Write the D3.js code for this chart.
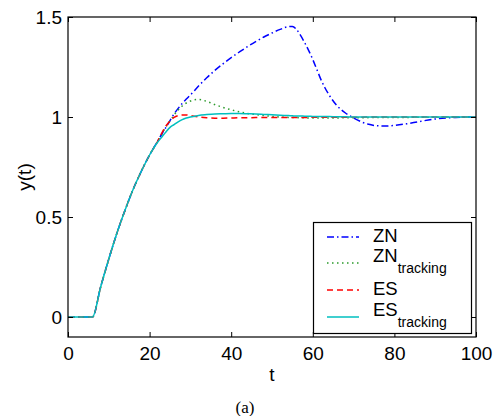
<!DOCTYPE html>
<html><head><meta charset="utf-8">
<script src="https://cdn.jsdelivr.net/npm/d3@7"></script>
<style>body{margin:0;background:#fff}svg{display:block}</style>
</head><body>
<svg id="c" width="493" height="416"></svg>
<script>
const time = [0,6,8,10,12,14,16,18,20,22,23,24,25,26,27,28,29,30,32,34,36,38,40,42,44,46,48,50,52,54,55,56,57,58,59,60,61,62,63,64,66,68,70,72,74,76,78,80,83,86,90,95,100];
const rise = [0,0,0.15,0.29,0.42,0.535,0.64,0.73,0.81,0.88];
const zn = rise.concat([0.915,0.948,0.982,1.015,1.043,1.068,1.09,1.11,1.155,1.196,1.233,1.266,1.297,1.325,1.352,1.377,1.4,1.42,1.438,1.452,1.453,1.438,1.408,1.372,1.332,1.287,1.237,1.187,1.145,1.11,1.055,1.02,0.995,0.975,0.962,0.956,0.955,0.958,0.966,0.977,0.99,0.998,1.0]);
const znTracking = rise.concat([0.915,0.95,0.98,1.01,1.035,1.055,1.07,1.08,1.088,1.078,1.062,1.048,1.036,1.026,1.018,1.012,1.007,1.003,1.0,0.998,0.997,0.997,0.996,0.996,0.995,0.995,0.995,0.995,0.995,0.995,0.995,0.996,0.996,0.996,0.997,0.997,0.997,0.998,0.998,0.999,0.999,1.0,1.0]);
const es = rise.concat([0.92,0.955,0.98,0.998,1.007,1.01,1.01,1.007,1.0,0.996,0.994,0.994,0.995,0.996,0.996,0.997,0.997,0.998,0.998,0.998,0.998,0.998,0.998,0.998,0.998,0.999,0.999,0.999,0.999,0.999,0.999,0.999,0.999,0.999,1.0,1.0,1.0,1.0,1.0,1.0,1.0,1.0,1.0]);
const esTracking = [0,0,0.15,0.29,0.42,0.535,0.64,0.73,0.81,0.875,0.9,0.925,0.948,0.962,0.976,0.987,0.995,1.0,1.008,1.012,1.015,1.016,1.017,1.017,1.016,1.015,1.013,1.011,1.009,1.007,1.006,1.005,1.005,1.004,1.004,1.003,1.003,1.002,1.002,1.002,1.001,1.001,1.0,1.0,1.0,1.0,1.0,1.0,1.0,1.0,1.0,1.0,1.0];
const xTicks = [0,20,40,60,80,100];
const yTicks = [0,0.5,1,1.5];
const seriesNames = ["ZN","ZN","ES","ES"];
const seriesSubs = ["","tracking","","tracking"];

const svg = d3.select("#c");
const L=68,R=476,T=17,B=337;
const x = d3.scaleLinear().domain([0,100]).range([L,R]);
const y = d3.scaleLinear().domain([-0.1,1.5]).range([B,T]);
const font = "'Liberation Sans', Arial, Helvetica, sans-serif";

const styles = [
  {color:"#0000ff", dash:"7,3,1.5,3"},
  {color:"#2a9a2a", dash:"1.5,3.5"},
  {color:"#ff0000", dash:"6,4"},
  {color:"#00bfbf", dash:null}
];
const data = [zn, znTracking, es, esTracking];

const g = svg.append("g");
const line = d3.line().x((d,i)=>x(time[i])).y(d=>y(d)).curve(d3.curveMonotoneX);
data.forEach((s,k)=>{
  const p = g.append("path").attr("d", line(s)).attr("fill","none")
    .attr("stroke", styles[k].color).attr("stroke-width",1.5);
  if (styles[k].dash) p.attr("stroke-dasharray", styles[k].dash);
});

// axes
const ax = svg.append("g").attr("transform",`translate(0,${B})`)
  .call(d3.axisBottom(x).tickValues(xTicks).tickSizeInner(-5).tickSizeOuter(0).tickPadding(10).tickFormat(d=>String(d)));
const axTop = svg.append("g").attr("transform",`translate(0,${T})`)
  .call(d3.axisTop(x).tickValues(xTicks).tickSizeInner(-5).tickSizeOuter(0).tickFormat(""));
const ay = svg.append("g").attr("transform",`translate(${L},0)`)
  .call(d3.axisLeft(y).tickValues(yTicks).tickSizeInner(-5).tickSizeOuter(0).tickPadding(6).tickFormat(d=>String(d)));
const ayR = svg.append("g").attr("transform",`translate(${R},0)`)
  .call(d3.axisRight(y).tickValues(yTicks).tickSizeInner(-5).tickSizeOuter(0).tickFormat(""));
[ax,axTop,ay,ayR].forEach(a=>{
  a.selectAll(".domain").remove();
  a.selectAll("line").attr("stroke","#000").attr("stroke-width",1);
  a.selectAll("text").attr("font-family",font).attr("font-size",19).attr("fill","#000");
});
svg.append("rect").attr("x",L).attr("y",T).attr("width",R-L).attr("height",B-T)
  .attr("fill","none").attr("stroke","#000").attr("stroke-width",1.2);

// labels
svg.append("text").attr("x",272).attr("y",381).attr("text-anchor","middle")
  .attr("font-family",font).attr("font-size",19).text("t");
svg.append("text").attr("transform","translate(31,177) rotate(-90)").attr("text-anchor","middle")
  .attr("font-family",font).attr("font-size",19).text("y(t)");
svg.append("text").attr("x",245).attr("y",413).attr("text-anchor","middle")
  .attr("font-family","'Liberation Serif', 'Times New Roman', serif").attr("font-size",17).text("(a)");

// legend
const lg = svg.append("g");
lg.append("rect").attr("x",313.5).attr("y",222.5).attr("width",158).attr("height",111)
  .attr("fill","#fff").attr("stroke","#000").attr("stroke-width",1.2);
const lineY = [237,263,290,317];
const textY = [242,262,295,316];
seriesNames.forEach((n,k)=>{
  const l = lg.append("line").attr("x1",327).attr("x2",359).attr("y1",lineY[k]).attr("y2",lineY[k])
    .attr("stroke",styles[k].color).attr("stroke-width",1.5);
  if (styles[k].dash) l.attr("stroke-dasharray", styles[k].dash);
  const t = lg.append("text").attr("x",373).attr("y",textY[k]).attr("font-family",font).attr("font-size",18.5).text(n);
  if (seriesSubs[k]) t.append("tspan").attr("font-size",14).attr("dy",11).text(seriesSubs[k]);
});
</script>
</body></html>
